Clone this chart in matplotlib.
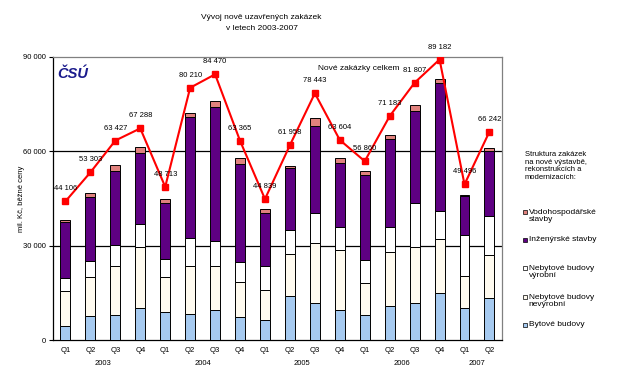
"""
Vyvoj nove uzavrenych zakazek 2003-2007 (stacked bars + total line).
"""

import matplotlib
matplotlib.use("Agg")
import matplotlib.pyplot as plt
from matplotlib.patches import Rectangle
import numpy as np

plt.rcParams['font.family'] = ['Liberation Sans', 'DejaVu Sans']

quarters = ["Q1", "Q2", "Q3", "Q4", "Q1", "Q2", "Q3", "Q4", "Q1", "Q2", "Q3", "Q4",
            "Q1", "Q2", "Q3", "Q4", "Q1", "Q2"]
years = ["2003", "2004", "2005", "2006", "2007"]
year_centers = [1.5, 5.5, 9.5, 13.5, 16.5]

# mil. Kc
bytove = [4400, 7600, 7900, 10200, 8900, 8200, 9500, 7300, 6300, 14000, 11800, 9500,
          7900, 10800, 11800, 15000, 10200, 13400]
nevyrobni = [11200, 12500, 15700, 19500, 11200, 15400, 14100, 11200, 9600, 13500, 19200, 19200,
             10300, 17300, 17900, 17000, 10200, 13500]
vyrobni = [4100, 5100, 6700, 7100, 5800, 8700, 8000, 6400, 7700, 7400, 9300, 7100,
           7400, 8000, 13800, 9000, 13100, 12500]
inzenyrske = [17900, 20200, 23500, 22700, 17600, 38500, 42600, 31200, 16700, 19700, 27600, 20600,
              26800, 27900, 29300, 40600, 12200, 20600]
vodohosp = [700, 1300, 1900, 1800, 1400, 1400, 1900, 1900, 1300, 600, 2600, 1400,
            1200, 1100, 1800, 1400, 400, 1100]
celkem = [44106, 53303, 63427, 67288, 48713, 80210, 84470, 63365, 44839, 61958, 78443, 63604,
          56860, 71183, 81807, 89182, 49496, 66242]

series = [bytove, nevyrobni, vyrobni, inzenyrske, vodohosp]
colors = ["#A6CAF0", "#FFFBF0", "#FFFFFF", "#5E0082", "#E0827E"]
legend_labels = ["Vodohospodářské\nstavby", "Inženýrské stavby", "Nebytové budovy\nvýrobní",
                 "Nebytové budovy\nnevýrobní", "Bytové budovy"]

fig = plt.figure(figsize=(6.27, 3.9), dpi=100)
ax = fig.add_axes([0.0845, 0.128, 0.716, 0.726])

x = np.arange(len(quarters))
bottom = np.zeros(len(quarters))
for vals, col in zip(series, colors):
    ax.bar(x, vals, width=0.4, bottom=bottom, color=col, edgecolor="black", linewidth=0.7, zorder=3)
    bottom += np.array(vals)

ax.plot(x, celkem, color="#FF0000", linewidth=1.5, marker="s", markersize=4.5, zorder=5)
for xi, v in zip(x, celkem):
    ax.annotate(f"{v:,}".replace(",", " "), (xi, v), xytext=(0, 9), textcoords="offset points",
                ha="center", va="center", fontsize=5.5, zorder=6, annotation_clip=False)

ax.set_xlim(-0.5, 17.5)
ax.set_ylim(0, 90000)
ax.set_yticks([0, 30000, 60000, 90000])
ax.set_yticklabels(["0", "30 000", "60 000", "90 000"], fontsize=5.5)
ax.set_xticks(x)
ax.set_xticklabels(quarters, fontsize=5.5)
ax.tick_params(axis="x", length=0, pad=5)
ax.tick_params(axis="y", length=3, width=0.8, pad=2)
for yv in [30000, 60000]:
    ax.axhline(yv, color="black", linewidth=0.9, zorder=1)
ax.spines["top"].set_color("#808080")
ax.spines["right"].set_color("#808080")
for s in ax.spines.values():
    s.set_linewidth(0.9)

for yc, yr in zip(year_centers, years):
    ax.text(yc, -0.081, yr, transform=ax.get_xaxis_transform(), ha="center", va="center", fontsize=5.5)

ax.set_ylabel("mil. Kč, běžné ceny", fontsize=5.5)
ax.yaxis.set_label_coords(-0.062, 0.5)

fig.text(0.417, 0.956, "Vývoj nově uzavřených zakázek", ha="center", va="center", fontsize=6)
fig.text(0.417, 0.928, "v letech 2003-2007", ha="center", va="center", fontsize=6)

ax.text(0.01, 0.94, "ČSÚ", transform=ax.transAxes, fontsize=10.5, fontweight="bold",
        fontstyle="italic", color="#1A1A8C", va="center", ha="left")
ax.text(0.68, 0.96, "Nové zakázky celkem", transform=ax.transAxes, fontsize=6, ha="center", va="center")

fig.text(0.837, 0.575, "Struktura zakázek\nna nové výstavbě,\nrekonstrukcích a\nmodernizacích:",
         fontsize=5.5, ha="left", va="center", linespacing=1.1)

legend_y = [216, 239, 272, 301, 324]
legend_cols = [colors[4], colors[3], colors[2], colors[1], colors[0]]
for ly, lab, col in zip(legend_y, legend_labels, legend_cols):
    yf = 1 - ly / 390
    first_line = 1 - (ly - 5 if "\n" in lab else ly) / 390
    fig.add_artist(Rectangle((0.834, first_line - 0.008), 0.0065, 0.0105, transform=fig.transFigure,
                             facecolor=col, edgecolor="black", linewidth=0.5))
    fig.text(0.843, yf, lab, fontsize=6, ha="left", va="center", linespacing=1.0)

fig.savefig("out.png", dpi=100)
